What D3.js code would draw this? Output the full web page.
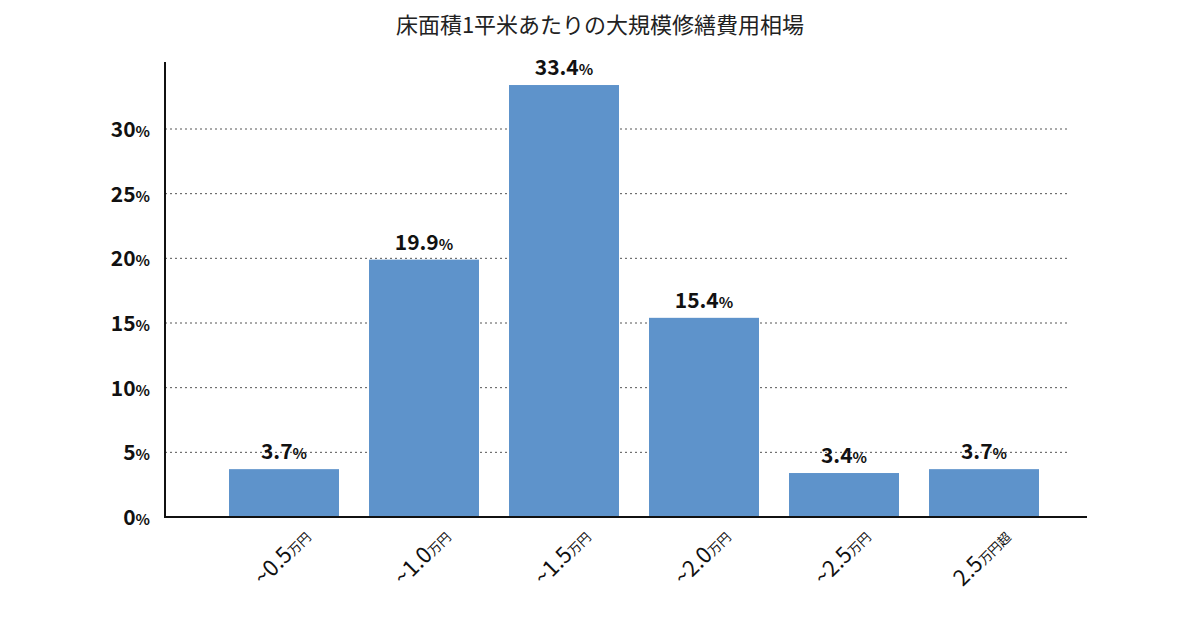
<!DOCTYPE html>
<html><head><meta charset="utf-8">
<script src="https://cdn.jsdelivr.net/npm/d3@7"></script>
<style>body{margin:0;background:#fff}text{font-family:"Noto Sans CJK JP","Noto Sans",sans-serif}</style>
</head><body>
<svg id="chart" width="1200" height="630"></svg>
<script>
let categories = ["~0.5", "~1.0", "~1.5", "~2.0", "~2.5", "2.5"]
let suffixes = ["万円", "万円", "万円", "万円", "万円", "万円超"]
let values = [3.7, 19.9, 33.4, 15.4, 3.4, 3.7]
let yTicks = [0, 5, 10, 15, 20, 25, 30]

const svg = d3.select("#chart")
const m = {left: 165, right: 1067, top: 62, bottom: 517}

let x = d3.scaleBand().domain(categories).range([159, 1039 + 70 - 40]).paddingInner(0.214).paddingOuter(0.5)
x = d3.scaleBand().domain(categories).range([194, 1074]).paddingInner(0.2143).paddingOuter(0.25)
let y = d3.scaleLinear().domain([0, 30]).range([m.bottom, 129])

svg.append("text").attr("x", 600).attr("y", 33).attr("text-anchor", "middle")
    .attr("font-size", 22).attr("fill", "#222").text("床面積1平米あたりの大規模修繕費用相場")

// grid
svg.selectAll(".grid").data(yTicks.slice(1)).enter().append("line")
    .attr("x1", m.left).attr("x2", m.right)
    .attr("y1", d => y(d)).attr("y2", d => y(d))
    .attr("stroke", "#555").attr("stroke-dasharray", "2,3").attr("stroke-width", 1)

// y labels
let yl = svg.selectAll(".yl").data(yTicks).enter().append("text")
    .attr("x", 150).attr("y", d => y(d) + 8).attr("text-anchor", "end")
    .attr("font-size", 21).attr("font-weight", "bold").attr("fill", "#111")
yl.append("tspan").text(d => d)
yl.append("tspan").attr("font-size", 15).text("%")

// bars
svg.selectAll(".bar").data(values).enter().append("rect")
    .attr("x", (d, i) => x(categories[i])).attr("width", x.bandwidth())
    .attr("y", d => y(d)).attr("height", d => m.bottom - y(d))
    .attr("fill", "#5e93cb")

let vl = svg.selectAll(".vl").data(values).enter().append("text")
    .attr("x", (d, i) => x(categories[i]) + x.bandwidth() / 2)
    .attr("y", d => y(d) - 10).attr("text-anchor", "middle")
    .attr("font-size", 21).attr("font-weight", "bold").attr("fill", "#111")
vl.append("tspan").text(d => d.toFixed(1))
vl.append("tspan").attr("font-size", 15).text("%")

// axes lines
svg.append("line").attr("x1", m.left).attr("x2", m.left).attr("y1", m.top).attr("y2", m.bottom + 1)
    .attr("stroke", "#111").attr("stroke-width", 2)
svg.append("line").attr("x1", m.left).attr("x2", 1087).attr("y1", m.bottom).attr("y2", m.bottom)
    .attr("stroke", "#111").attr("stroke-width", 2)

// x labels
let xl = svg.selectAll(".xl").data(categories).enter().append("text")
    .attr("transform", d => "translate(" + (x(d) + x.bandwidth() / 2 + 28) + ",538) rotate(-45)")
    .attr("text-anchor", "end").attr("font-size", 22).attr("fill", "#111")
xl.append("tspan").text(d => d)
xl.append("tspan").attr("font-size", 13).text((d, i) => suffixes[i])
</script>
</body></html>
